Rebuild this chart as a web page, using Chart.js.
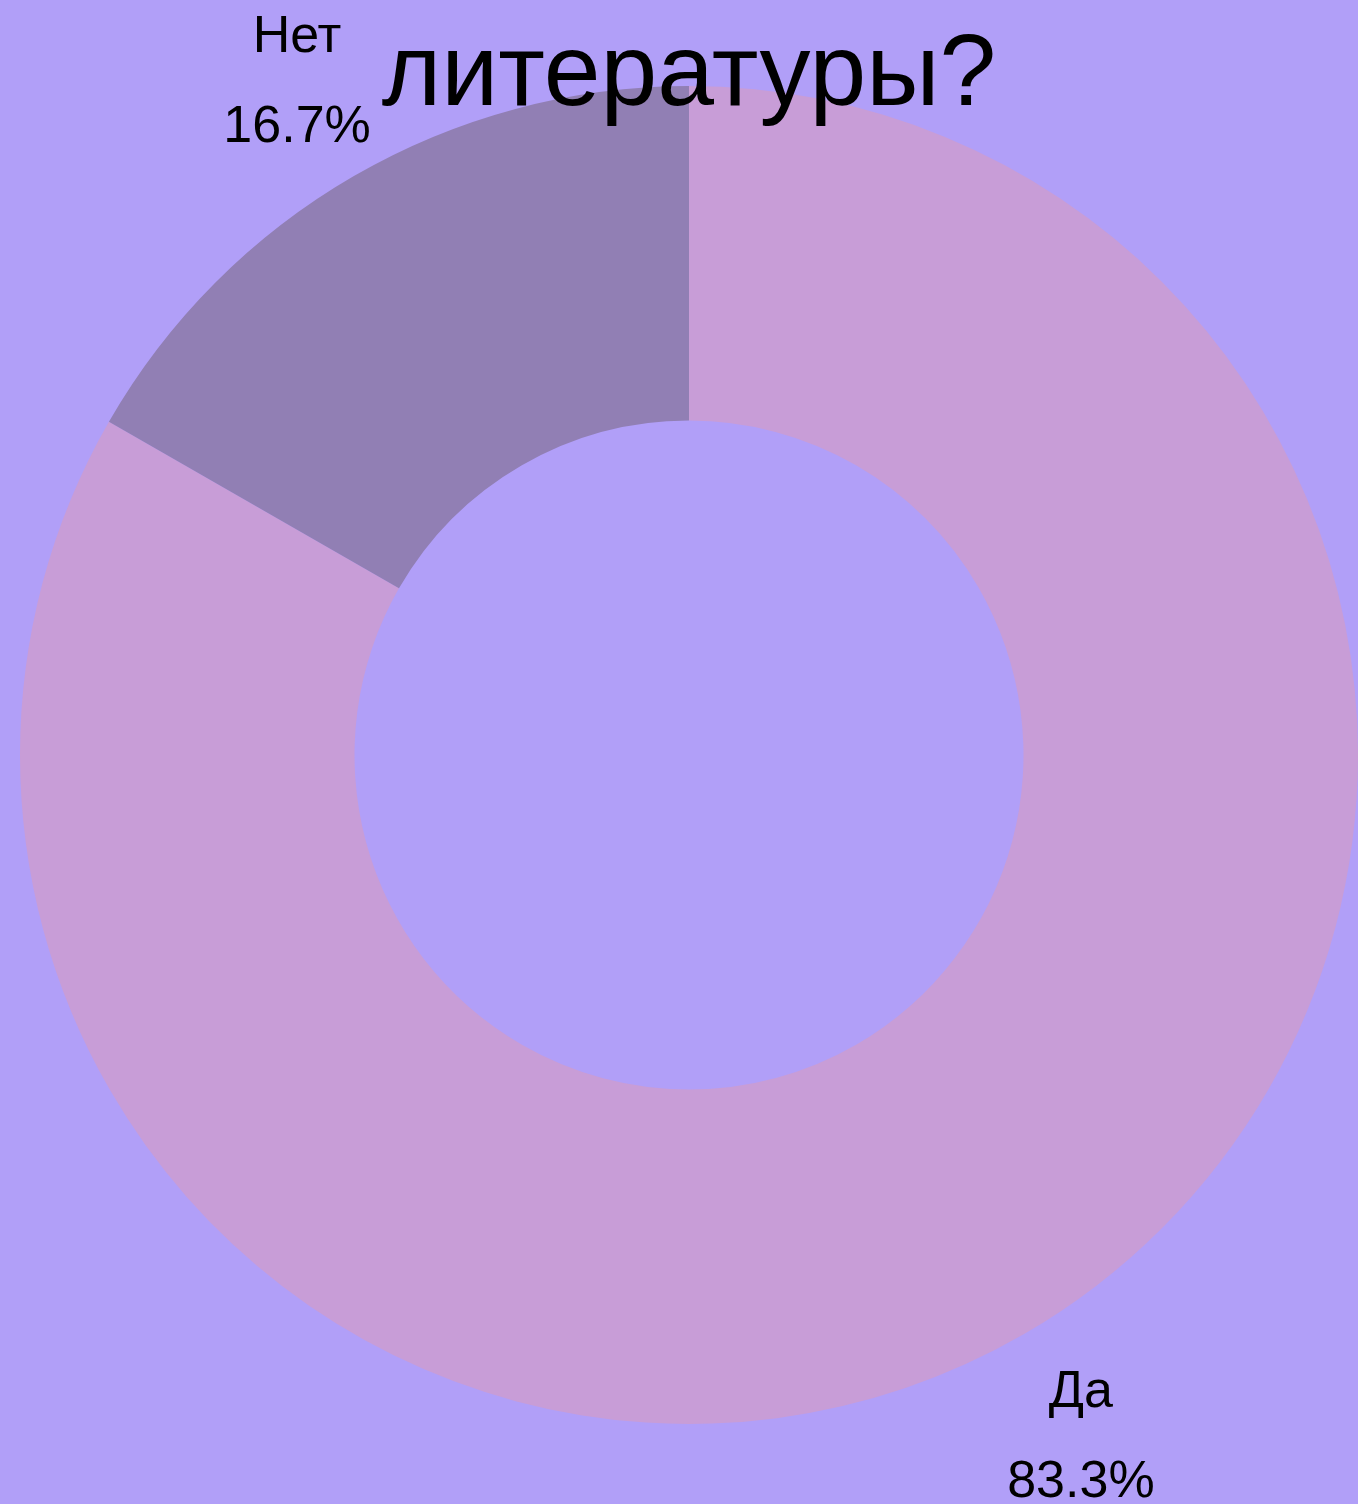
<!DOCTYPE html>
<html>
<head>
<meta charset="utf-8">
<script src="https://cdn.jsdelivr.net/npm/chart.js@4/dist/chart.umd.min.js"></script>
<style>
  html, body { margin: 0; padding: 0; background: #B19FF8; }
  #wrap { width: 1358px; height: 1504px; }
</style>
</head>
<body>
<div id="wrap"><canvas id="c" width="1358" height="1504"></canvas></div>
<script>
const titleText = 'литературы?';
const categories = ['Да', 'Нет'];
const values = [83.3, 16.7];
const sliceColors = ['#C89DD7', '#917FB4'];
const bgColor = '#B19FF8';

const bgPlugin = {
  id: 'bg',
  beforeDraw(chart) {
    const ctx = chart.ctx;
    ctx.save();
    ctx.fillStyle = bgColor;
    ctx.fillRect(0, 0, chart.width, chart.height);
    ctx.restore();
  }
};

const outerLabels = {
  id: 'outerLabels',
  afterDatasetsDraw(chart) {
    const ctx = chart.ctx;
    const meta = chart.getDatasetMeta(0);
    const total = values.reduce((a, b) => a + b, 0);
    ctx.save();
    ctx.fillStyle = '#000';
    ctx.font = '52px "Liberation Sans", Arial, sans-serif';
    ctx.textAlign = 'center';
    ctx.textBaseline = 'alphabetic';
    meta.data.forEach((arc, i) => {
      const p = arc.getProps(['x', 'y', 'startAngle', 'endAngle', 'outerRadius'], true);
      const mid = (p.startAngle + p.endAngle) / 2;
      const r = p.outerRadius * 1.1695;
      const cx = p.x + Math.cos(mid) * r;
      const cy = p.y + Math.sin(mid) * r;
      ctx.fillText(categories[i], cx, cy - 25.5);
      ctx.fillText((values[i] / total * 100).toFixed(1) + '%', cx, cy + 64.5);
    });
    // title (partially clipped original title, last line visible)
    ctx.font = '102px "Liberation Sans", Arial, sans-serif';
    ctx.fillText(titleText, 689, 105);
    ctx.restore();
  }
};

new Chart(document.getElementById('c'), {
  type: 'doughnut',
  data: {
    labels: categories,
    datasets: [{
      data: values,
      backgroundColor: sliceColors,
      borderWidth: 0
    }]
  },
  options: {
    responsive: false,
    animation: false,
    cutout: '50%',
    layout: { padding: { left: 20, right: 0, top: 85, bottom: 79 } },
    plugins: {
      legend: { display: false },
      tooltip: { enabled: false },
      title: { display: false }
    }
  },
  plugins: [bgPlugin, outerLabels]
});
</script>
</body>
</html>
